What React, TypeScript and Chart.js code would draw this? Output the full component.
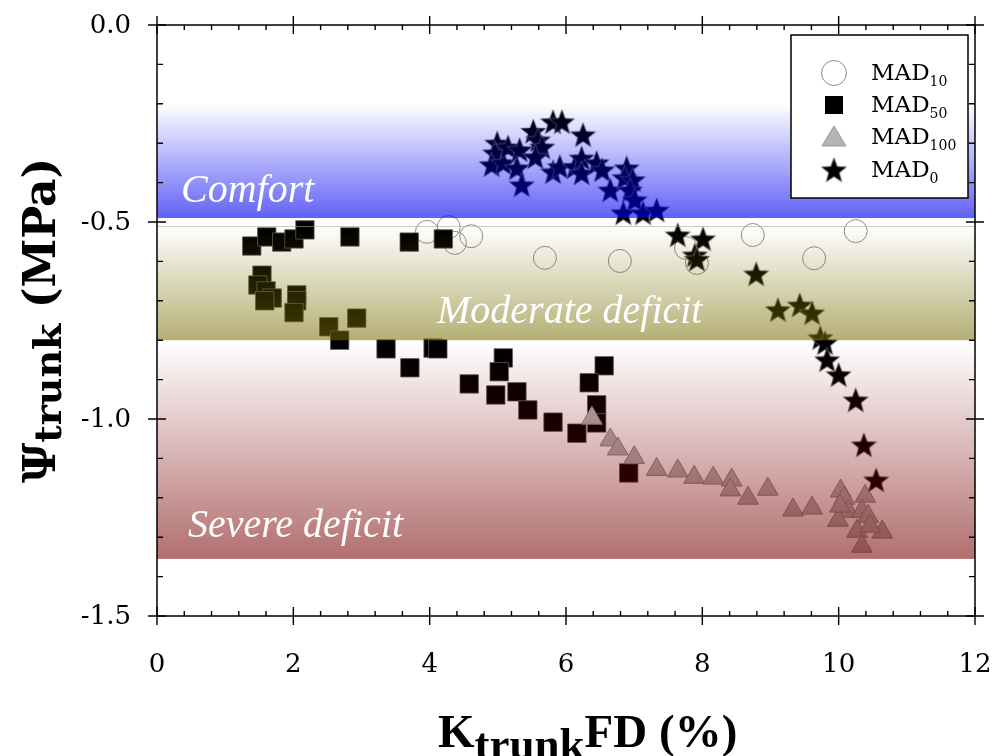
import React, { useEffect, useRef } from 'react';
import { Chart, registerables } from 'chart.js';

Chart.register(...registerables);

// ---------------- DATA ----------------
const mad10X = [3.96, 4.28, 4.61, 4.37, 5.69, 6.79, 7.76, 7.92, 8.74, 9.64, 10.25];
const mad10Y = [-0.525, -0.513, -0.536, -0.553, -0.591, -0.599, -0.566, -0.604, -0.533, -0.592, -0.523];

const mad50X = [1.39, 1.61, 1.83, 2.01, 2.17, 2.83, 3.70, 4.20, 1.54, 1.48, 1.60, 1.69, 1.58, 2.05, 2.05, 2.01,
  2.93, 2.52, 2.68, 3.36, 4.05, 4.12, 3.71, 4.58, 5.08, 5.02, 4.97, 5.28, 5.44, 5.81, 6.16, 6.56, 6.34, 6.45, 6.45, 6.92];
const mad50Y = [-0.561, -0.538, -0.551, -0.543, -0.520, -0.538, -0.551, -0.543, -0.635, -0.660, -0.675, -0.693, -0.700, -0.685, -0.700, -0.730,
  -0.744, -0.766, -0.800, -0.822, -0.820, -0.822, -0.870, -0.911, -0.845, -0.880, -0.939, -0.931, -0.977, -1.008, -1.036, -0.865, -0.908, -0.964, -1.010, -1.137];

const mad100X = [6.38, 6.65, 6.76, 7.00, 7.33, 7.64, 7.88, 8.16, 8.43, 8.41, 8.67, 8.96, 9.33, 9.61,
  10.03, 10.08, 10.14, 9.99, 10.02, 10.39, 10.34, 10.43, 10.27, 10.64, 10.34, 10.46];
const mad100Y = [-0.998, -1.053, -1.076, -1.098, -1.128, -1.132, -1.148, -1.150, -1.155, -1.180, -1.201, -1.178, -1.231, -1.226,
  -1.183, -1.201, -1.234, -1.257, -1.221, -1.196, -1.234, -1.247, -1.285, -1.287, -1.323, -1.272];

const mad0X = [4.99, 4.96, 4.91, 5.08, 5.15, 5.32, 5.28, 5.35, 5.52, 5.59, 5.65, 5.55, 5.81, 5.94, 6.25, 5.81, 5.91, 6.13,
  6.23, 6.23, 6.45, 6.53, 6.65, 6.89, 6.86, 6.98, 6.94, 7.01, 6.84, 7.13, 7.33, 7.64, 8.01, 7.89, 7.92, 8.79, 9.11, 9.43,
  9.61, 9.73, 9.80, 9.83, 10.00, 10.25, 10.37, 10.55];
const mad0Y = [-0.300, -0.325, -0.355, -0.350, -0.310, -0.317, -0.363, -0.406, -0.270, -0.292, -0.310, -0.335, -0.246, -0.246, -0.279, -0.373, -0.360, -0.360,
  -0.338, -0.376, -0.350, -0.368, -0.419, -0.363, -0.388, -0.393, -0.419, -0.444, -0.477, -0.477, -0.470, -0.533, -0.543, -0.584, -0.595, -0.632, -0.723, -0.711,
  -0.731, -0.794, -0.807, -0.850, -0.888, -0.952, -1.066, -1.155];

const xTickValues = [0, 2, 4, 6, 8, 10, 12];
const xTickLabels = ['0', '2', '4', '6', '8', '10', '12'];
const yTickValues = [0, -0.5, -1.0, -1.5];
const yTickLabels = ['0.0', '-0.5', '-1.0', '-1.5'];

const bandNames = ['Comfort', 'Moderate deficit', 'Severe deficit'];
const bandTops = [-0.2, -0.51, -0.805];
const bandBottoms = [-0.49, -0.80, -1.355];

const legendNames = ['MAD', 'MAD', 'MAD', 'MAD'];
const legendSubs = ['10', '50', '100', '0'];

// ---------------- STYLES ----------------
const BAND_RGB = [[0, 0, 240], [120, 110, 0], [120, 0, 0]];
const BAND_ALPHA = [0.62, 0.55, 0.57];
const BAND_LABEL_X = [181, 437, 188];
const BAND_LABEL_OFFSET = [16, 17, 22];
const TICK_FONT = '26px "DejaVu Serif"';
const TITLE_FONT = 'bold 44px "DejaVu Serif"';

function starPath(g: CanvasRenderingContext2D, cx: number, cy: number, R: number, r: number) {
  g.beginPath();
  for (let i = 0; i < 10; i++) {
    const rad = i % 2 === 0 ? R : r;
    const a = -Math.PI / 2 + (i * Math.PI) / 5;
    const px = cx + rad * Math.cos(a);
    const py = cy + rad * Math.sin(a);
    if (i === 0) g.moveTo(px, py);
    else g.lineTo(px, py);
  }
  g.closePath();
}

function makeStar(R: number) {
  const size = Math.ceil(R * 2 + 4);
  const c = document.createElement('canvas');
  c.width = size;
  c.height = size;
  const g = c.getContext('2d')!;
  starPath(g, size / 2, size / 2 + 1, R, R * 0.42);
  g.fillStyle = '#000';
  g.fill();
  g.strokeStyle = 'rgba(150,150,150,0.9)';
  g.lineWidth = 0.6;
  g.stroke();
  return c;
}

function drawSymbol(ctx: CanvasRenderingContext2D, kind: number, x: number, y: number, star: HTMLCanvasElement) {
  ctx.save();
  if (kind === 0) {
    ctx.beginPath();
    ctx.arc(x, y, 12.5, 0, Math.PI * 2);
    ctx.fillStyle = '#fff';
    ctx.fill();
    ctx.strokeStyle = '#8c8c8c';
    ctx.lineWidth = 1;
    ctx.stroke();
  } else if (kind === 1) {
    ctx.fillStyle = '#000';
    ctx.fillRect(x - 9, y - 9, 18, 18);
  } else if (kind === 2) {
    ctx.beginPath();
    ctx.moveTo(x, y - 11);
    ctx.lineTo(x + 12, y + 9);
    ctx.lineTo(x - 12, y + 9);
    ctx.closePath();
    ctx.fillStyle = '#b4b4b4';
    ctx.fill();
    ctx.strokeStyle = '#999';
    ctx.lineWidth = 1;
    ctx.stroke();
  } else {
    ctx.drawImage(star, x - star.width / 2, y - star.height / 2);
  }
  ctx.restore();
}

export default function App() {
  const ref = useRef<HTMLCanvasElement | null>(null);

  useEffect(() => {
    if (!ref.current) return;
    const star = makeStar(13.5);

    const plugin = {
      id: 'custom',
      afterDatasetsDraw(chart: any) {
        const { ctx, chartArea } = chart;
        const y = chart.scales.y;
        ctx.save();
        for (let i = 0; i < bandNames.length; i++) {
          const t = y.getPixelForValue(bandTops[i]);
          const b = y.getPixelForValue(bandBottoms[i]);
          const [r, g, bl] = BAND_RGB[i];
          const grad = ctx.createLinearGradient(0, t, 0, b);
          grad.addColorStop(0, `rgba(${r},${g},${bl},0)`);
          grad.addColorStop(1, `rgba(${r},${g},${bl},${BAND_ALPHA[i]})`);
          ctx.fillStyle = grad;
          ctx.fillRect(chartArea.left, t, chartArea.right - chartArea.left, b - t);
        }
        const tl = y.getPixelForValue(bandTops[1]);
        ctx.strokeStyle = 'rgba(170,170,120,0.6)';
        ctx.lineWidth = 1;
        ctx.beginPath();
        ctx.moveTo(chartArea.left, tl + 0.5);
        ctx.lineTo(chartArea.right, tl + 0.5);
        ctx.stroke();
        ctx.fillStyle = '#fff';
        ctx.font = 'italic 40px "Liberation Serif"';
        ctx.textAlign = 'left';
        ctx.textBaseline = 'alphabetic';
        for (let i = 0; i < bandNames.length; i++) {
          const b = y.getPixelForValue(bandBottoms[i]);
          ctx.fillText(bandNames[i], BAND_LABEL_X[i], b - BAND_LABEL_OFFSET[i]);
        }
        ctx.restore();
      },
      afterDraw(chart: any) {
        const { ctx, chartArea } = chart;
        const { left, right, top, bottom } = chartArea;
        const xs = chart.scales.x;
        const ys = chart.scales.y;
        ctx.save();
        // legend
        const lx = 791, ly = 35, lw = 177, lh = 163;
        ctx.fillStyle = '#fff';
        ctx.fillRect(lx, ly, lw, lh);
        ctx.strokeStyle = '#000';
        ctx.lineWidth = 1.5;
        ctx.strokeRect(lx, ly, lw, lh);
        const rowsY = [73, 105, 137, 170];
        for (let i = 0; i < legendNames.length; i++) {
          drawSymbol(ctx, i, 834, rowsY[i], star);
          ctx.fillStyle = '#000';
          ctx.font = '23px "DejaVu Serif"';
          ctx.textAlign = 'left';
          ctx.textBaseline = 'alphabetic';
          ctx.fillText(legendNames[i], 871, rowsY[i] + 7);
          const w = ctx.measureText(legendNames[i]).width;
          ctx.font = '14px "DejaVu Serif"';
          ctx.fillText(legendSubs[i], 871 + w, rowsY[i] + 13);
        }

        // axes box
        ctx.strokeStyle = '#000';
        ctx.lineWidth = 1.5;
        ctx.strokeRect(left, top, right - left, bottom - top);
        ctx.lineWidth = 1.4;
        ctx.beginPath();
        xTickValues.forEach((v) => {
          const px = xs.getPixelForValue(v);
          ctx.moveTo(px, bottom - 9); ctx.lineTo(px, bottom + 9);
          ctx.moveTo(px, top - 9); ctx.lineTo(px, top + 9);
        });
        for (let k = 0; k <= 30; k++) {
          const v = k * 0.4;
          if (Math.abs(v / 2 - Math.round(v / 2)) < 1e-6) continue;
          const px = xs.getPixelForValue(v);
          ctx.moveTo(px, bottom); ctx.lineTo(px, bottom - 5);
          ctx.moveTo(px, top); ctx.lineTo(px, top + 5);
        }
        yTickValues.forEach((v) => {
          const py = ys.getPixelForValue(v);
          ctx.moveTo(left - 9, py); ctx.lineTo(left + 9, py);
          ctx.moveTo(right - 9, py); ctx.lineTo(right + 9, py);
        });
        for (let k = 0; k <= 15; k++) {
          if (k % 5 === 0) continue;
          const py = ys.getPixelForValue(-k * 0.1);
          ctx.moveTo(left, py); ctx.lineTo(left + 6, py);
          ctx.moveTo(right, py); ctx.lineTo(right - 6, py);
        }
        ctx.stroke();

        // tick labels
        ctx.fillStyle = '#000';
        ctx.font = TICK_FONT;
        ctx.textAlign = 'center';
        ctx.textBaseline = 'middle';
        xTickValues.forEach((v, i) => {
          ctx.fillText(xTickLabels[i], xs.getPixelForValue(v), 665);
        });
        ctx.textAlign = 'right';
        yTickValues.forEach((v, i) => {
          ctx.fillText(yTickLabels[i], 131, ys.getPixelForValue(v) + 1);
        });

        // y title (rotated)
        ctx.save();
        ctx.translate(55, 483);
        ctx.rotate(-Math.PI / 2);
        ctx.textAlign = 'left';
        ctx.textBaseline = 'alphabetic';
        ctx.font = TITLE_FONT;
        let cx = 0;
        ctx.fillText('\u03A8', cx, 0);
        cx += ctx.measureText('\u03A8').width;
        ctx.font = 'bold 38px "DejaVu Serif"';
        ctx.fillText('trunk', cx, 6);
        cx += ctx.measureText('trunk').width;
        ctx.font = TITLE_FONT;
        ctx.fillText(' (MPa)', cx, 0);
        ctx.restore();

        // x title
        ctx.textAlign = 'left';
        ctx.textBaseline = 'alphabetic';
        let tx = 438;
        ctx.font = 'bold 47px "Liberation Serif"';
        ctx.fillText('K', tx, 747);
        tx += ctx.measureText('K').width;
        ctx.font = 'bold 45px "Liberation Serif"';
        ctx.fillText('trunk', tx, 759);
        tx += ctx.measureText('trunk').width;
        ctx.font = 'bold 47px "Liberation Serif"';
        ctx.fillText('FD (%)', tx, 747);
        ctx.restore();
      },
    };

    const chart = new Chart(ref.current, {
      type: 'scatter',
      data: {
        datasets: [
          {
            label: 'MAD10',
            data: mad10X.map((x, i) => ({ x, y: mad10Y[i] })),
            pointStyle: 'circle',
            pointRadius: 11.5,
            backgroundColor: 'rgba(0,0,0,0)',
            borderColor: '#8c8c8c',
            borderWidth: 1,
            order: 3,
          },
          {
            label: 'MAD50',
            data: mad50X.map((x, i) => ({ x, y: mad50Y[i] })),
            pointStyle: 'rect',
            pointRadius: 13,
            backgroundColor: '#000',
            borderColor: '#5a5a5a',
            borderWidth: 0.8,
            order: 2,
          },
          {
            label: 'MAD100',
            data: mad100X.map((x, i) => ({ x, y: mad100Y[i] })),
            pointStyle: 'triangle',
            pointRadius: 12,
            backgroundColor: '#b4b4b4',
            borderColor: '#8a8a8a',
            borderWidth: 1,
            order: 1,
          },
          {
            label: 'MAD0',
            data: mad0X.map((x, i) => ({ x, y: mad0Y[i] })),
            pointStyle: star as any,
            pointRadius: 13,
            backgroundColor: '#000',
            borderColor: '#000',
            order: 0,
          },
        ],
      },
      options: {
        animation: false,
        responsive: true,
        maintainAspectRatio: false,
        events: [],
        layout: { padding: { top: 25, right: 28, left: 0, bottom: 0 }, autoPadding: false },
        plugins: { legend: { display: false }, tooltip: { enabled: false } },
        scales: {
          x: {
            type: 'linear',
            min: 0,
            max: 12,
            grid: { display: false },
            border: { display: false },
            ticks: { display: false },
            afterFit: (s: any) => { s.height = 140; },
          },
          y: {
            type: 'linear',
            min: -1.5,
            max: 0,
            grid: { display: false },
            border: { display: false },
            ticks: { display: false },
            afterFit: (s: any) => { s.width = 157; },
          },
        },
      },
      plugins: [plugin],
    });
    return () => chart.destroy();
  }, []);

  return (
    <div style={{ position: 'fixed', left: 0, top: 0, width: 1003, height: 756, background: '#fff' }}>
      <canvas ref={ref} />
    </div>
  );
}
